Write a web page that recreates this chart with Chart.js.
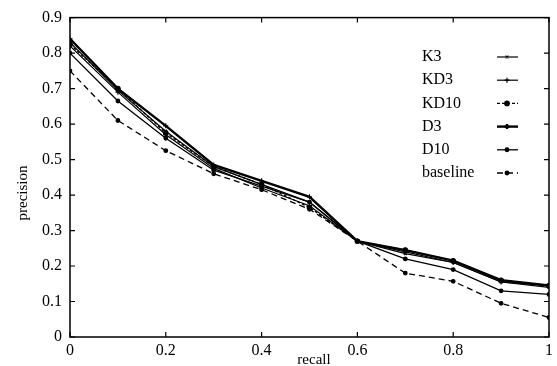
<!DOCTYPE html>
<html>
<head>
<meta charset="utf-8">
<script src="https://cdn.jsdelivr.net/npm/chart.js@4/dist/chart.umd.min.js"></script>
<style>
  body{margin:0;background:#fff;}
  #wrap{width:557px;height:366px;position:relative;}
</style>
</head>
<body>
<div id="wrap"><canvas id="prChart"></canvas></div>
<script>
// recall levels (x) and precision per run
var recall   = [0, 0.1, 0.2, 0.3, 0.4, 0.5, 0.6, 0.7, 0.8, 0.9, 1.0];
var k3       = [0.83, 0.695, 0.58, 0.48, 0.43, 0.38, 0.27, 0.235, 0.21, 0.155, 0.14];
var kd3      = [0.82, 0.69, 0.57, 0.475, 0.42, 0.37, 0.27, 0.24, 0.21, 0.155, 0.145];
var kd10     = [0.825, 0.70, 0.575, 0.48, 0.43, 0.365, 0.27, 0.245, 0.215, 0.16, 0.145];
var d3       = [0.84, 0.70, 0.595, 0.485, 0.44, 0.395, 0.27, 0.245, 0.215, 0.16, 0.145];
var d10      = [0.80, 0.665, 0.56, 0.47, 0.425, 0.38, 0.27, 0.22, 0.19, 0.13, 0.12];
var baseline = [0.75, 0.61, 0.525, 0.46, 0.415, 0.36, 0.27, 0.18, 0.157, 0.095, 0.055];
var xTicks = [0, 0.2, 0.4, 0.6, 0.8, 1];
var yTicks = [0, 0.1, 0.2, 0.3, 0.4, 0.5, 0.6, 0.7, 0.8, 0.9];

var serif = '"Liberation Serif", "DejaVu Serif", serif';

function pts(ys){
  return recall.map(function(x,i){ return {x:x, y:ys[i]}; });
}
function ds(label, ys, width, dash, style, r){
  return {
    label:label, data:pts(ys),
    borderColor:'#000', backgroundColor:'#000',
    borderWidth:width, borderDash:dash,
    pointStyle:style, pointRadius:r, pointBorderWidth:1.2,
    pointBorderColor:'#000', pointBackgroundColor:'#000',
    fill:false, tension:0
  };
}

// border, inward ticks, axis titles, legend on the right
var decor = {
  id:'decor',
  afterDraw:function(chart){
    var c = chart.ctx, a = chart.chartArea;
    var xs = chart.scales.x, ys = chart.scales.y;
    c.save();
    c.strokeStyle = '#000';
    c.lineWidth = 1.5;
    c.strokeRect(a.left, a.top, a.right - a.left, a.bottom - a.top);
    c.lineWidth = 1.2;
    c.beginPath();
    xTicks.forEach(function(t){
      var px = xs.getPixelForValue(t);
      c.moveTo(px, a.bottom); c.lineTo(px, a.bottom - 5);
      c.moveTo(px, a.top); c.lineTo(px, a.top + 5);
    });
    yTicks.forEach(function(t){
      var py = ys.getPixelForValue(t);
      c.moveTo(a.left, py); c.lineTo(a.left + 5, py);
      c.moveTo(a.right, py); c.lineTo(a.right - 5, py);
    });
    c.stroke();

    c.fillStyle = '#000';
    c.font = '15px ' + serif;
    c.textAlign = 'center';
    c.textBaseline = 'alphabetic';
    c.fillText('recall', 314, 364);
    c.translate(22, 193);
    c.rotate(-Math.PI/2);
    c.fillText('precision', 0, 5);
    c.setTransform(1,0,0,1,0,0);

    // legend: label text then a short line sample with its marker
    c.font = '16px ' + serif;
    c.textAlign = 'left';
    c.textBaseline = 'middle';
    chart.data.datasets.forEach(function(d, i){
      var y = 57 + i * 23.2;
      c.fillText(d.label, 422, y);
      c.lineWidth = d.borderWidth;
      c.setLineDash(d.borderDash || []);
      c.beginPath();
      c.moveTo(497, y); c.lineTo(518, y);
      c.stroke();
      c.setLineDash([]);
      Chart.helpers.drawPoint(c, {pointStyle:d.pointStyle, radius:d.pointRadius, borderWidth:1}, 507, y);
    });
    c.restore();
  }
};

new Chart('prChart', {
  type:'line',
  data:{
    datasets:[
      ds('K3', k3, 1.2, [], 'crossRot', 2),
      ds('KD3', kd3, 1.2, [], 'cross', 2.5),
      ds('KD10', kd10, 1.3, [3, 2], 'circle', 2.2),
      ds('D3', d3, 2.4, [], 'cross', 2.5),
      ds('D10', d10, 1.3, [], 'circle', 1.8),
      ds('baseline', baseline, 1.3, [6, 4], 'circle', 1.8)
    ]
  },
  options:{
    responsive:true,
    maintainAspectRatio:false,
    animation:false,
    layout:{padding:{top:17, right:4, left:0, bottom:0}},
    plugins:{legend:{display:false}, tooltip:{enabled:false}},
    scales:{
      x:{
        type:'linear', min:0, max:1,
        afterFit:function(s){ s.height = 29; },
        afterBuildTicks:function(s){ s.ticks = xTicks.map(function(v){ return {value:v}; }); },
        grid:{display:false, drawTicks:false},
        border:{display:false},
        ticks:{color:'#000', padding:4, maxRotation:0, font:{family:serif, size:16},
          callback:function(v){ return String(v); }}
      },
      y:{
        type:'linear', min:0, max:0.9,
        afterFit:function(s){ s.width = 70; },
        afterBuildTicks:function(s){ s.ticks = yTicks.map(function(v){ return {value:v}; }); },
        grid:{display:false, drawTicks:false},
        border:{display:false},
        ticks:{color:'#000', padding:8, font:{family:serif, size:16},
          callback:function(v){ return String(Math.round(v*10)/10); }}
      }
    }
  },
  plugins:[decor]
});
</script>
</body>
</html>
